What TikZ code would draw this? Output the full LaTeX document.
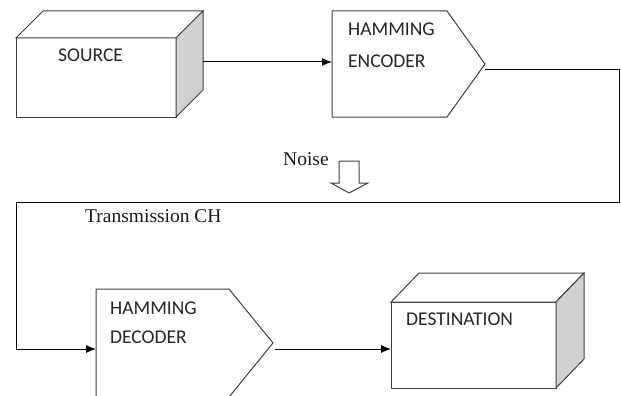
\documentclass[tikz,border=0pt]{standalone}
\usepackage{fontspec}
\setmainfont{Liberation Serif}
\newfontfamily\boxfont{Carlito}
\usetikzlibrary{arrows.meta,calc}
\tikzset{
  edge/.style={draw=black!75, line width=1pt, line join=miter},
  sideface/.style={edge, fill=black!18},
  conn/.style={draw=black, line width=1pt},
  arr/.style={conn, -{Latex[length=10pt,width=8pt]}},
  boxlbl/.style={font=\boxfont\fontsize{19.5}{21}\selectfont, text=black!85, inner sep=0pt, anchor=base west},
  serlbl/.style={font=\fontsize{19.5}{21}\selectfont, text=black!90, inner sep=0pt, anchor=base west},
  hidden/.style={draw=none, inner sep=0pt, outer sep=0pt}
}
\begin{document}
\begin{tikzpicture}[x=1pt,y=-1pt]
\useasboundingbox (0,0) rectangle (621,396);
\begin{scope}
\clip (0,0) rectangle (621,396);
% SOURCE cube
\node[hidden, edge, fill=white, minimum width=160pt, minimum height=79pt] (src) at (96,77.5) {};
\draw[edge, fill=white] (src.north west) -- ++(27,-27) -- ++(160,0) -- (src.north east) -- cycle;
\draw[sideface] (src.north east) -- ++(27,-27) -- ++(0,79) -- (src.south east) -- cycle;
\node[boxlbl] (srclbl) at (58,62) {SOURCE};
% HAMMING ENCODER
\node[hidden, minimum width=153pt, minimum height=106pt] (enc) at (408.5,64) {};
\draw[edge, fill=white] (enc.north west) -- ++(115,0) -- (enc.east) -- ($(enc.south west)+(115,0)$) -- (enc.south west) -- cycle;
\node[boxlbl] (enclbl1) at (348,36) {HAMMING};
\node[boxlbl] (enclbl2) at (348,67) {ENCODER};
% HAMMING DECODER
\node[hidden, minimum width=177pt, minimum height=108pt] (dec) at (184.5,343) {};
\draw[edge, fill=white] (dec.north west) -- ++(133,0) -- (dec.east) -- ($(dec.south west)+(133,0)$) -- (dec.south west) -- cycle;
\node[boxlbl] (declbl1) at (110,314) {HAMMING};
\node[boxlbl] (declbl2) at (110,343) {DECODER};
% DESTINATION cube
\node[hidden, edge, fill=white, minimum width=165pt, minimum height=86pt] (dst) at (473.5,345) {};
\draw[edge, fill=white] (dst.north west) -- ++(28,-29) -- ++(165,0) -- (dst.north east) -- cycle;
\draw[sideface] (dst.north east) -- ++(28,-29) -- ++(0,86) -- (dst.south east) -- cycle;
\node[boxlbl] (dstlbl) at (406,325) {DESTINATION};
% connectors
\coordinate (srcout) at ($(src.north east)+(27,24)$);
\draw[arr] (srcout) -- (enc.west |- srcout);
\coordinate (encout) at ($(enc.east)+(0,6)$);
\coordinate (decin) at ($(dec.west)+(0,6)$);
\draw[arr] (encout) -- (619,70) -- (619,202) -- (16,202) -- (16,349) -- (decin);
\coordinate (decout) at ($(dec.east)+(2,6)$);
\draw[arr] (decout) -- (dst.west |- decout);
% labels
\node[serlbl] (noise) at (283,165) {Noise};
\node[serlbl] (tch) at (85,222) {Transmission CH};
% hollow noise arrow
\draw[edge, fill=white] (339,161) -- (359,161) -- (359,183) -- (368,183) -- (349,193) -- (331,183) -- (339,183) -- cycle;
\end{scope}
\end{tikzpicture}
\end{document}
